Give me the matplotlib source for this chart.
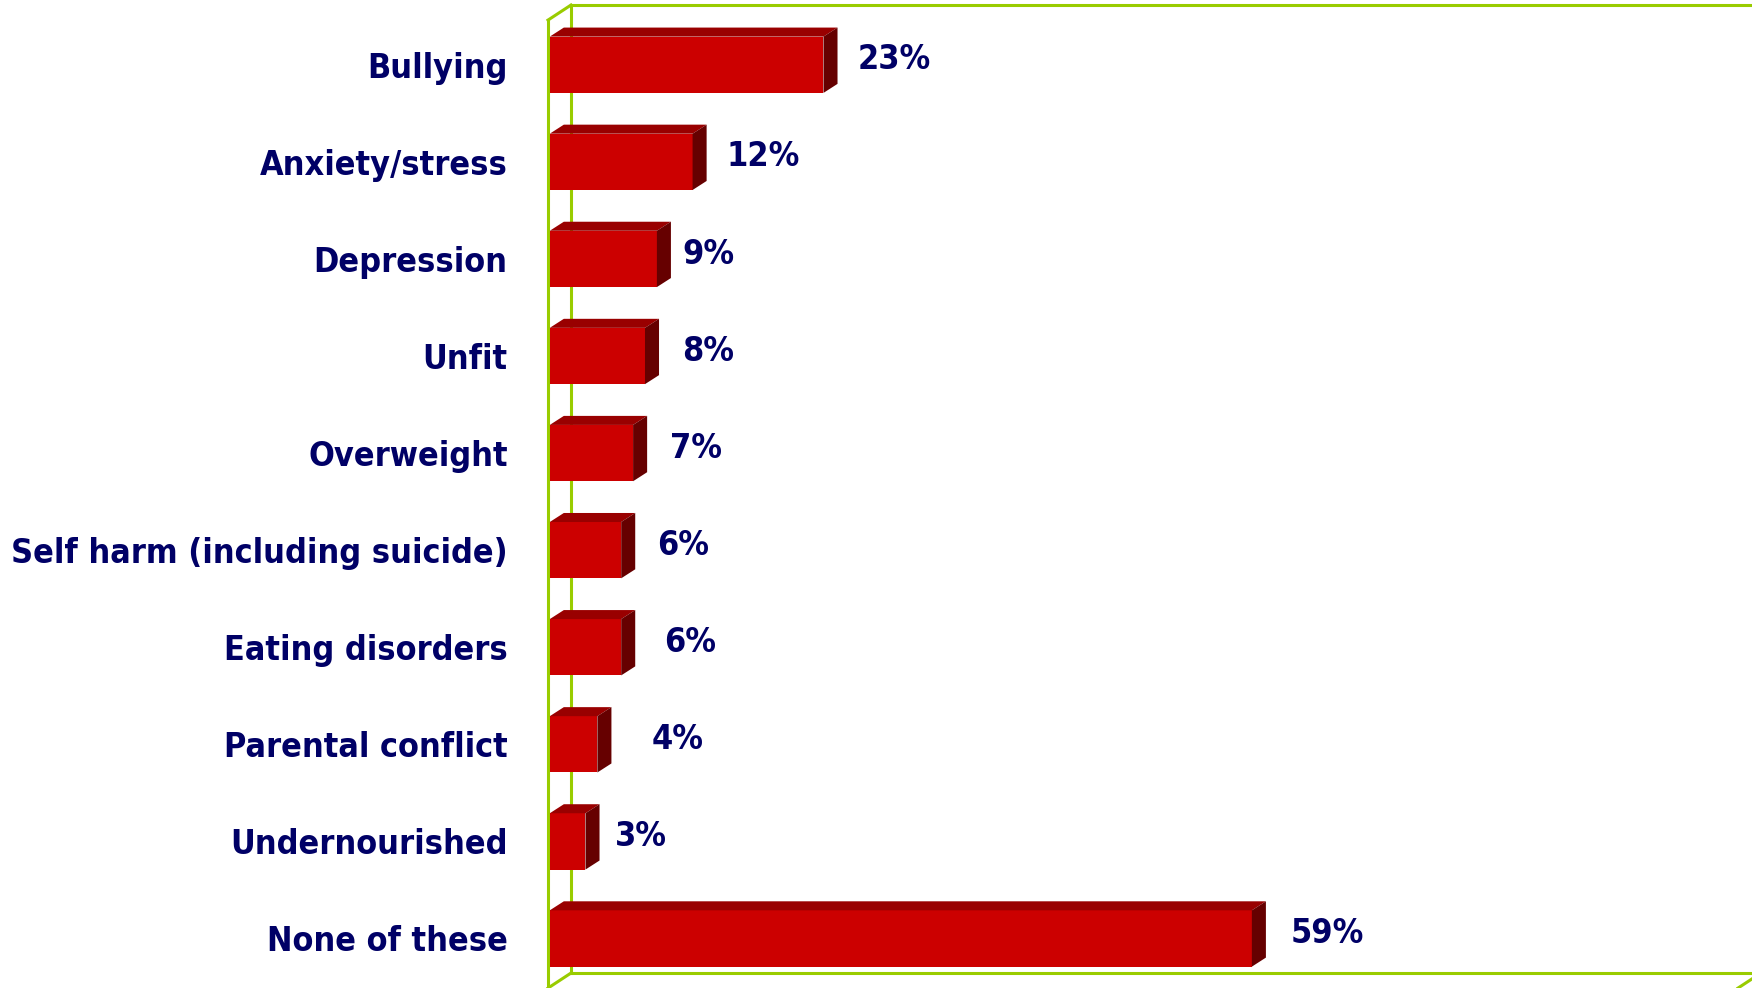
import matplotlib.pyplot as plt
from matplotlib.patches import Polygon

categories = ['Bullying', 'Anxiety/stress', 'Depression', 'Unfit', 'Overweight',
              'Self harm (including suicide)', 'Eating disorders',
              'Parental conflict', 'Undernourished', 'None of these']
values = [23, 12, 9, 8, 7, 6, 6, 4, 3, 59]
value_labels = ['23%', '12%', '9%', '8%', '7%', '6%', '6%', '4%', '3%', '59%']
# the original puts a few labels a bit off the bar end (in % units)
label_nudge = [0, 0, -0.7, 0.25, 0.25, 0.2, 0.75, 1.75, -0.35, 0.4]

FRONT = '#cc0000'
TOP = '#990000'
SIDE = '#660000'
FRAME = '#99cc00'
TEXT = '#000066'

BAR_H = 0.58
DX, DY = 1.18, 0.093     # bar depth
WX, WY = 1.93, 0.155     # wall depth
FONT = dict(family='DejaVu Sans', fontweight='bold', fontstretch='condensed',
            fontsize=24.5, color=TEXT)

fig = plt.figure(figsize=(17.52, 9.88), dpi=100)
ax = fig.add_axes([548 / 1752, 0, 1 - 548 / 1752, 1])
ax.set_xlim(0, 101.18)
ax.set_ylim(9.51, -0.667)
ax.patch.set_alpha(0)
for s in ax.spines.values():
    s.set_visible(False)
ax.set_xticks([])

# walls and floor outline
yt_back, yb_back = -0.615, 9.356
yt_front, yb_front = yt_back + WY, yb_back + WY
frame_lines = [
    ([0, 0], [yt_front, yb_front + 0.5]),
    ([0, WX], [yt_front, yt_back]),
    ([WX, WX], [yt_back, yb_back]),
    ([WX, 100 + WX], [yt_back, yt_back]),
    ([WX, 100 + WX], [yb_back, yb_back]),
    ([WX, 0], [yb_back, yb_front]),
    ([100 + WX, 100], [yb_back, yb_front]),
]
for xs, ys in frame_lines:
    ax.plot(xs, ys, color=FRAME, lw=2.2, clip_on=False, zorder=1)

ypos = list(range(len(categories)))
ax.barh(ypos, values, left=0.15, height=BAR_H, color=FRONT, zorder=3)
for y, v in zip(ypos, values):
    v = v + 0.15
    top = y - BAR_H / 2
    bot = y + BAR_H / 2
    ax.add_patch(Polygon([(0.15, top), (v, top), (v + DX, top - DY), (0.15 + DX, top - DY)],
                         closed=True, facecolor=TOP, edgecolor='none', zorder=3))
    ax.add_patch(Polygon([(v, top), (v + DX, top - DY), (v + DX, bot - DY), (v, bot)],
                         closed=True, facecolor=SIDE, edgecolor='none', zorder=3))

for y, v, lab, nd in zip(ypos, values, value_labels, label_nudge):
    ax.text(v + DX + 1.8 + nd, y - 0.05, lab, ha='left', va='center', **FONT)

ax.set_yticks(ypos)
ax.set_yticklabels(categories, **FONT)
ax.tick_params(axis='y', length=0, pad=29)
for t in ax.get_yticklabels():
    t.set_verticalalignment('center_baseline')

fig.savefig('out.png', dpi=100)
